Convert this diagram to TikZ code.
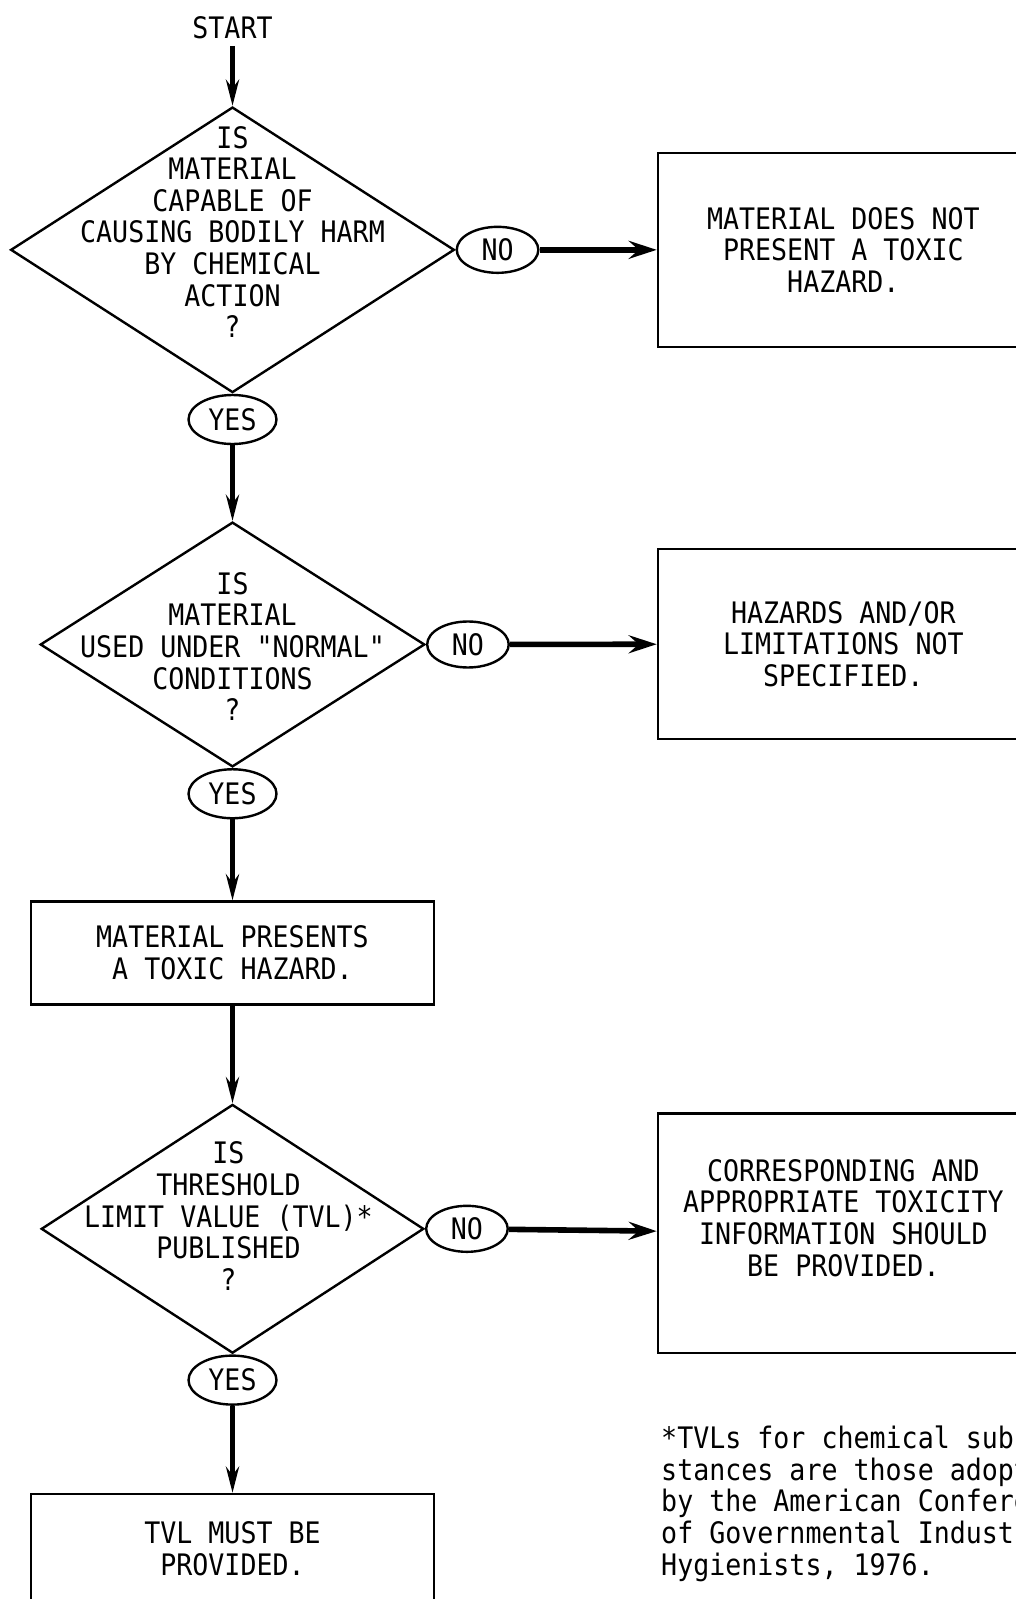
\documentclass[tikz,border=0pt]{standalone}
\usepackage{fontspec}
\newfontfamily\typewr[FakeStretch=0.9]{DejaVu Sans Mono}
\usetikzlibrary{arrows.meta,positioning,shapes.geometric}

\begin{document}
\begin{tikzpicture}[
  x=0.51pt,y=-0.51pt,
  every node/.style={font=\typewr\fontsize{14.8}{15.8}\selectfont,align=center},
  decision/.style={draw,diamond,line width=1.2pt,inner sep=0pt},
  answer/.style={draw,ellipse,line width=1.2pt,inner sep=0pt,minimum width=40.8pt,minimum height=23pt},
  outcome/.style={draw,rectangle,line width=1.1pt,inner sep=3pt},
  note/.style={align=left,inner sep=0pt},
  arr/.style={-{Stealth[length=13pt,width=6.5pt]},line width=2.4pt},
  noarr/.style={-{Stealth[length=14pt,width=9pt,inset=5pt]},line width=2.8pt}
]
\useasboundingbox (0,0) rectangle (996,1568);

% main column
\node (start) at (228,27) {START};
\node[decision,minimum width=221.9pt,minimum height=142.8pt] (q1) at (228,245) {};
\node (q1t) at (228,227.5) {IS\\MATERIAL\\CAPABLE OF\\CAUSING BODILY HARM\\BY CHEMICAL\\ACTION\\?};
\node[answer,right=0pt of q1] (no1) {NO};
\node[answer,below=0pt of q1,minimum width=44pt,minimum height=24.5pt] (yes1) {YES};

\node[decision,minimum width=192.3pt,minimum height=122.4pt] (q2) at (228,632) {};
\node (q2t) at (228,634) {IS\\MATERIAL\\USED UNDER "NORMAL"\\CONDITIONS\\?};
\node[answer,right=0pt of q2] (no2) {NO};
\node[answer,below=0pt of q2,minimum width=44pt,minimum height=24.5pt] (yes2) {YES};

\node[outcome,minimum width=201.5pt,minimum height=51.5pt] (toxic) at (228,934.5) {MATERIAL PRESENTS\\A TOXIC HAZARD.};

\node[decision,minimum width=191.3pt,minimum height=124.4pt] (q3) at (228,1205) {};
\node (q3t) at (224,1192.5) {IS\\THRESHOLD\\LIMIT VALUE (TVL)*\\PUBLISHED\\?};
\node[answer,right=0pt of q3] (no3) {NO};
\node[answer,below=0pt of q3,minimum width=44pt,minimum height=24.5pt] (yes3) {YES};

\node[outcome,minimum width=201.5pt,minimum height=54.6pt] (tvl) at (228,1518.5) {TVL MUST BE\\PROVIDED.};

% right column
\node[outcome,minimum width=185.6pt,minimum height=96.9pt] (r1) at (827,245) {MATERIAL DOES NOT\\PRESENT A TOXIC\\HAZARD.};
\node[outcome,minimum width=185.6pt,minimum height=95.4pt] (r2) at (827,631.5) {HAZARDS AND/OR\\LIMITATIONS NOT\\SPECIFIED.};
\node[outcome,minimum width=185.6pt,minimum height=119.9pt] (r3) at (827,1209.5) {CORRESPONDING AND\\APPROPRIATE TOXICITY\\INFORMATION SHOULD\\BE PROVIDED.\\ \mbox{}};

\node[note,anchor=north west] (fn) at (648,1398) {*TVLs for chemical sub-\\stances are those adopted\\by the American Conference\\of Governmental Industrial\\Hygienists, 1976.};

% connectors
\draw[arr] (start)--(q1);
\draw[arr] (yes1)--(q2);
\draw[arr] (yes2)--(toxic);
\draw[arr] (toxic)--(q3);
\draw[arr] (yes3)--(tvl);
\draw[noarr] (no1)--(r1);
\draw[noarr] (no2)--(r2);
\draw[noarr] (no3)--(r3);
\end{tikzpicture}
\end{document}
